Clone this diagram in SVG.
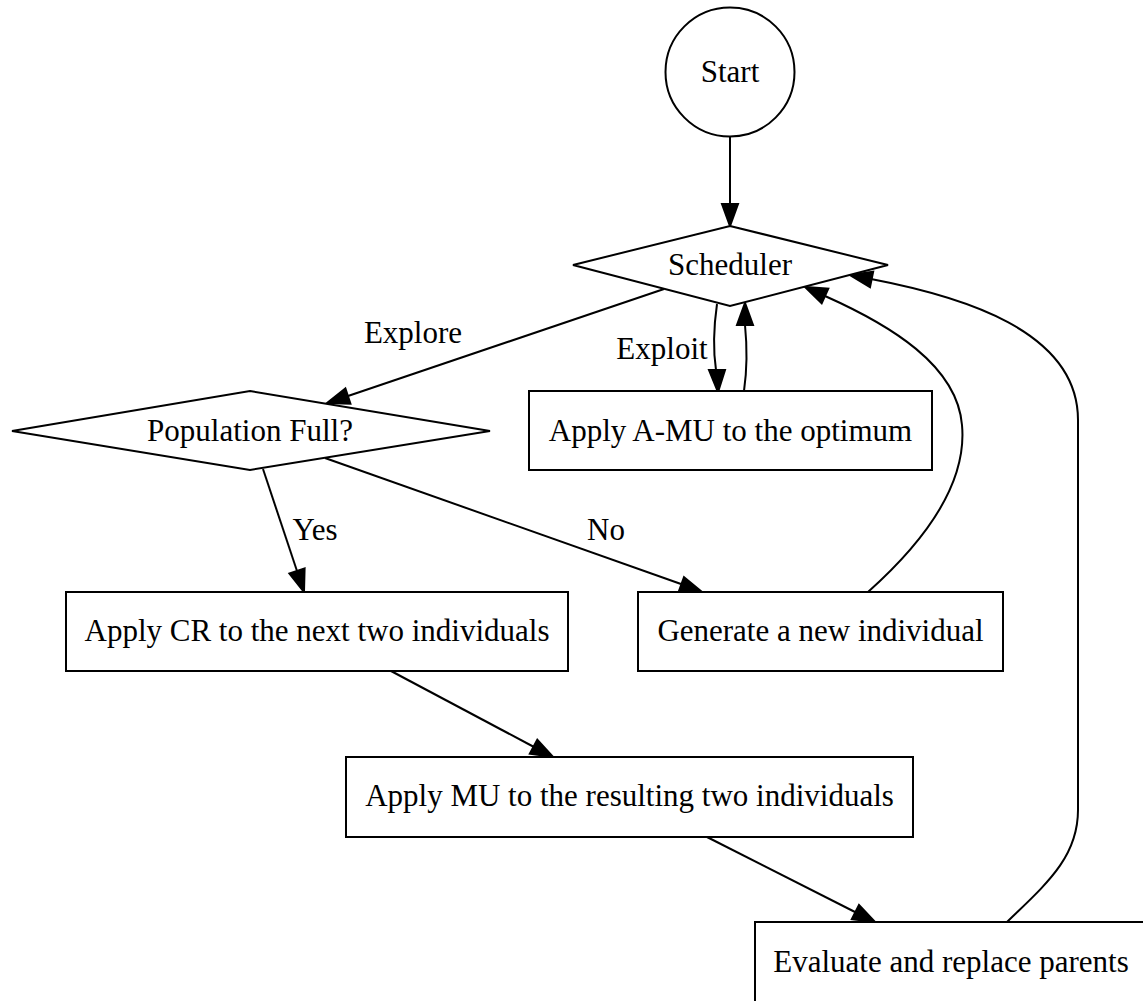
<svg xmlns="http://www.w3.org/2000/svg" width="1143" height="1001" viewBox="0 0 1143 1001">
  <style>
    .shape { fill: #ffffff; stroke: #000000; stroke-width: 2; }
    .edge { fill: none; stroke: #000000; stroke-width: 2; }
    .head { fill: #000000; stroke: #000000; stroke-width: 2; }
    text { font-family: "Liberation Serif", "Times New Roman", serif; font-size: 31px; fill: #000000; text-anchor: middle; }
  </style>
  <rect x="0" y="0" width="1143" height="1001" fill="#ffffff"/>

  <!-- connectors -->
  <g id="edges">
    <!-- Start -> Scheduler -->
    <g id="e_start_sched">
      <path class="edge" d="M730,137 L730,204"/>
      <polygon class="head" points="722,204 738,204 730,226"/>
    </g>
    <!-- Scheduler -> Population Full? (Explore) -->
    <g id="e_explore">
      <path class="edge" d="M664,289 L348,396"/>
      <polygon class="head" points="350.4,403.6 345.4,388.4 327,403"/>
      <text x="413" y="343">Explore</text>
    </g>
    <!-- Scheduler -> Apply A-MU (Exploit) -->
    <g id="e_exploit">
      <path class="edge" d="M717,304 C714,325 713,350 716,370"/>
      <polygon class="head" points="709,370 725,370 718,392"/>
      <text x="662" y="359">Exploit</text>
    </g>
    <!-- Apply A-MU -> Scheduler -->
    <g id="e_amu_back">
      <path class="edge" d="M744,391 C747,370 747,345 745,325"/>
      <polygon class="head" points="737,325 753,325 745,303"/>
    </g>
    <!-- Population Full? -> Apply CR (Yes) -->
    <g id="e_yes">
      <path class="edge" d="M263,469 L297,571"/>
      <polygon class="head" points="304.6,568.5 289.4,573.5 304,592"/>
      <text x="315" y="540">Yes</text>
    </g>
    <!-- Population Full? -> Generate (No) -->
    <g id="e_no">
      <path class="edge" d="M325,458 L681,584"/>
      <polygon class="head" points="678.6,592.1 684,577.1 702,592"/>
      <text x="606" y="540">No</text>
    </g>
    <!-- Apply CR -> Apply MU -->
    <g id="e_cr_mu">
      <path class="edge" d="M391,671 L534,747"/>
      <polygon class="head" points="529.8,753.8 537.3,739.7 553,757"/>
    </g>
    <!-- Apply MU -> Evaluate -->
    <g id="e_mu_eval">
      <path class="edge" d="M707,837 L855,912"/>
      <polygon class="head" points="851.8,919.2 859,905 875,922"/>
    </g>
    <!-- Generate -> Scheduler -->
    <g id="e_gen_back">
      <path class="edge" d="M868,592 C915,550 968,490 962,425 C957,365 890,325 825,296"/>
      <polygon class="head" points="828.3,288.7 821.7,303.3 805,287"/>
    </g>
    <!-- Evaluate -> Scheduler -->
    <g id="e_eval_back">
      <path class="edge" d="M1007,922 C1045,885 1078,858 1078,810 L1078,420 C1078,330 960,296 871,279"/>
      <polygon class="head" points="873.2,271.6 870,287.2 850,275"/>
    </g>
  </g>

  <!-- nodes -->
  <g id="start">
    <circle class="shape" cx="730" cy="72" r="64.5"/>
    <text x="730" y="82">Start</text>
  </g>
  <g id="scheduler">
    <polygon class="shape" points="730,226 888,265 730,306 573,265"/>
    <text x="730" y="275">Scheduler</text>
  </g>
  <g id="population_full">
    <polygon class="shape" points="250,391 490,431 250,470 12,431"/>
    <text x="250" y="441">Population Full?</text>
  </g>
  <g id="apply_amu">
    <rect class="shape" x="529" y="391" width="403" height="79"/>
    <text x="730.5" y="441">Apply A-MU to the optimum</text>
  </g>
  <g id="apply_cr">
    <rect class="shape" x="66" y="592" width="502" height="79"/>
    <text x="317" y="641">Apply CR to the next two individuals</text>
  </g>
  <g id="generate">
    <rect class="shape" x="638" y="592" width="365" height="79"/>
    <text x="820.5" y="641">Generate a new individual</text>
  </g>
  <g id="apply_mu">
    <rect class="shape" x="346" y="757" width="567" height="80"/>
    <text x="629.5" y="806">Apply MU to the resulting two individuals</text>
  </g>
  <g id="evaluate">
    <rect class="shape" x="755" y="922" width="392" height="80"/>
    <text x="951" y="972">Evaluate and replace parents</text>
  </g>
</svg>
